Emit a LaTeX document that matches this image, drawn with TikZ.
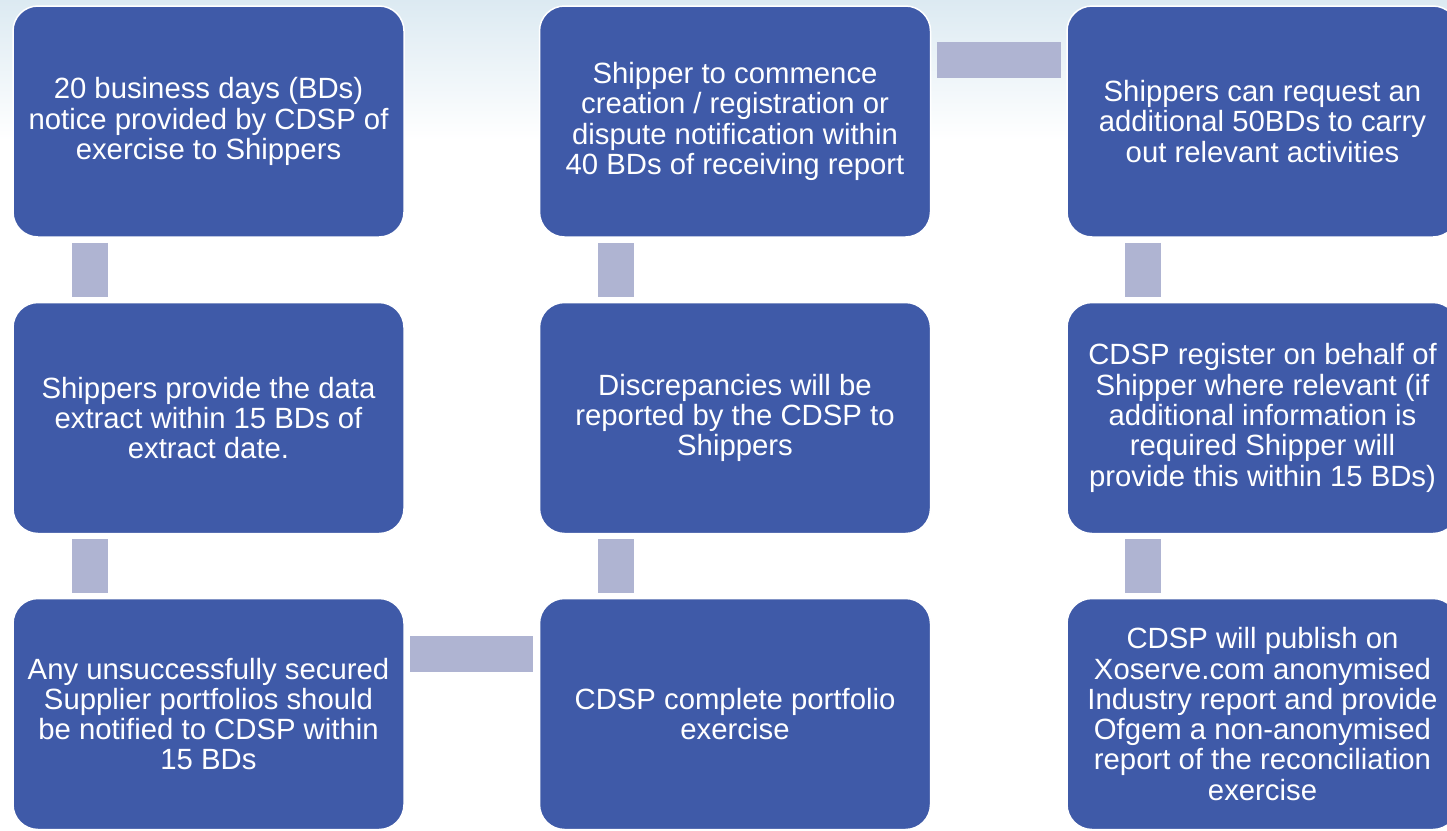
\documentclass[tikz,border=0pt]{standalone}
\usepackage{fontspec}
\setmainfont{Liberation Sans}
\definecolor{boxblue}{HTML}{3F5AA8}
\definecolor{connc}{HTML}{AFB4D2}
\definecolor{bgtint}{HTML}{DCEAF2}
\begin{document}
\begin{tikzpicture}[x=1pt,y=-1pt,
  stepbox/.style={draw=white, line width=1.5pt, fill=boxblue, rounded corners=25pt,
    minimum width=391pt, minimum height=231pt, inner sep=0pt,
    text=white, align=center, font=\fontsize{29.3}{30.3}\selectfont},
  vconn/.style={draw=connc, line width=36pt, line cap=butt, shorten <=5pt, shorten >=5pt},
  hconn/.style={draw=connc, line width=36pt, line cap=butt, shorten <=5.5pt, shorten >=5.5pt}]
\useasboundingbox (0,0) rectangle (1447,830);
\clip (0,0) rectangle (1447,830);
\fill[white] (0,0) rectangle (1447,830);
\shade[top color=bgtint, bottom color=white] (0,0) rectangle (1447,140);

\node[stepbox] (A) at (208.5,121.5) {20 business days (BDs)\\notice provided by CDSP of\\exercise to Shippers};
\node[stepbox] (B) at (208.5,418) {Shippers provide the data\\extract within 15 BDs of\\extract date.};
\node[stepbox] (C) at (208.5,714) {Any unsuccessfully secured\\Supplier portfolios should\\be notified to CDSP within\\15 BDs};
\node[stepbox] (D) at (735,714) {CDSP complete portfolio\\exercise};
\node[stepbox] (E) at (735,418) {Discrepancies will be\\reported by the CDSP to\\Shippers};
\node[stepbox] (F) at (735,121.5) {Shipper to commence\\creation / registration or\\dispute notification within\\40 BDs of receiving report};
\node[stepbox] (G) at (1262.5,121.5) {Shippers can request an\\additional 50BDs to carry\\out relevant activities};
\node[stepbox] (H) at (1262.5,418) {CDSP register on behalf of\\Shipper where relevant (if\\additional information is\\required Shipper will\\provide this within 15 BDs)};
\node[stepbox] (I) at (1262.5,714) {CDSP will publish on\\Xoserve.com anonymised\\Industry report and provide\\Ofgem a non-anonymised\\report of the reconciliation\\exercise};

\draw[vconn] ([xshift=78pt]A.south west) -- ([xshift=78pt]B.north west);
\draw[vconn] ([xshift=78pt]B.south west) -- ([xshift=78pt]C.north west);
\draw[hconn] ([yshift=-56pt]C.north east) -- ([yshift=-56pt]D.north west);
\draw[vconn] ([xshift=77pt]D.north west) -- ([xshift=77pt]E.south west);
\draw[vconn] ([xshift=77pt]E.north west) -- ([xshift=77pt]F.south west);
\draw[hconn] ([yshift=-55pt]F.north east) -- ([yshift=-55pt]G.north west);
\draw[vconn] ([xshift=77pt]G.south west) -- ([xshift=77pt]H.north west);
\draw[vconn] ([xshift=77pt]H.south west) -- ([xshift=77pt]I.north west);
\end{tikzpicture}
\end{document}
